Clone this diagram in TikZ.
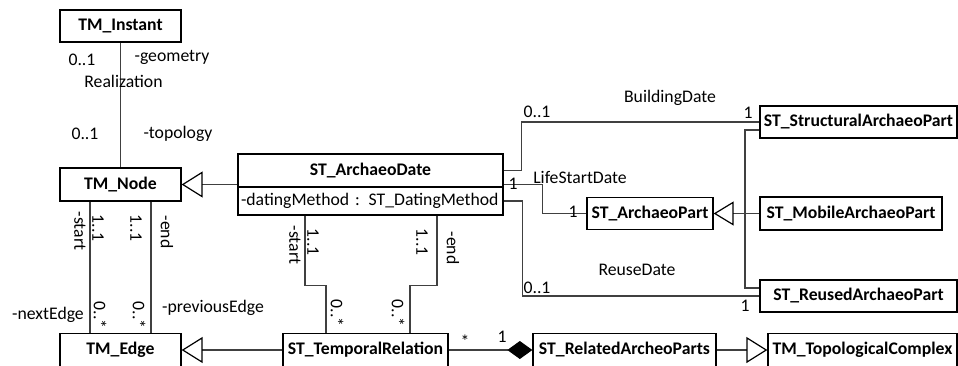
\documentclass[tikz,border=0pt]{standalone}
\usepackage{fontspec}
\setmainfont{Carlito}
\usetikzlibrary{arrows.meta}
\begin{document}
\begin{tikzpicture}[x=1pt,y=-1pt,
  cls/.style={draw=black,line width=1.3pt,fill=white,font=\fontsize{17.7}{20}\selectfont\bfseries,inner sep=0pt,minimum height=33pt},
  conn/.style={draw=black!75,line width=1.1pt},
  lbl/.style={font=\fontsize{17.7}{20}\selectfont,inner sep=0pt},
  vlbl/.style={lbl,rotate=-90},
  gen/.style={-{Triangle[open,length=21pt,width=26pt,line width=1.2pt,color=black]}},
  comp/.style={-{Diamond[length=25pt,width=18pt,color=black,fill=black]}}]
\useasboundingbox (0,0) rectangle (958,365);
% classes
\node[cls,minimum width=121pt,minimum height=32pt] (inst) at (120.5,26) {TM\_Instant};
\node[cls,minimum width=121pt] (node) at (120.5,184.5) {TM\_Node};
\node[cls,minimum width=121pt] (edge) at (120.5,350) {TM\_Edge};
\node[cls,minimum width=265pt] (dateT) at (370.5,170.5) {ST\_ArchaeoDate};
\node[cls,minimum width=265pt,minimum height=28pt,text width=259pt,align=left,font=\fontsize{17.7}{20}\selectfont] (dateA) at (370.5,201) {-datingMethod : ST\_DatingMethod};
\node[cls,minimum width=165pt] (tr) at (365.5,350) {ST\_TemporalRelation};
\node[cls,minimum width=183pt] (rap) at (624.5,350) {ST\_RelatedArcheoParts};
\node[cls,minimum width=189pt] (tc) at (862.5,350) {TM\_TopologicalComplex};
\node[cls,minimum width=197pt,minimum height=32pt] (sap) at (858.5,122) {ST\_StructuralArchaeoPart};
\node[cls,minimum width=182pt] (map) at (851,213.5) {ST\_MobileArchaeoPart};
\node[cls,minimum width=197pt,minimum height=32pt] (rep) at (858.5,296) {ST\_ReusedArchaeoPart};
\node[cls,minimum width=126pt,minimum height=32pt] (ap) at (650,213.5) {ST\_ArchaeoPart};
% connectors
\draw[conn] (inst.south) -- (node.north);
\draw[conn,gen] (dateT.west |- node.east) -- (node.east);
\draw[conn] ([xshift=-30.5pt]node.south) -- ([xshift=-30.5pt]edge.north);
\draw[conn] ([xshift=30.5pt]node.south) -- ([xshift=30.5pt]edge.north);
\draw[conn,gen] (tr.west) -- (edge.east);
\draw[conn] ([xshift=-65.5pt]dateA.south) -- ++(0,70) -| ([xshift=-39.5pt]tr.north);
\draw[conn] ([xshift=66.5pt]dateA.south) -- ++(0,70) -| ([xshift=44.5pt]tr.north);
\draw[conn,comp] (tr.east) -- (rap.west);
\draw[conn,gen] (rap.east) -- (tc.west);
\draw[conn] (dateT.east) -- ++(18,0) |- (sap.west);
\draw[conn] (dateT.east |- node.east) -- ++(39,0) |- (ap.west);
\draw[conn] (dateA.east) -- ++(19,0) |- (rep.west);
\draw[conn,-{Triangle[open,length=20pt,width=24pt,line width=1.2pt,color=black]}] (map.west) -- (ap.east);
\coordinate (j) at (745,213.5);
\draw[conn] ([yshift=-8pt]sap.west) -| (j) |- ([yshift=8pt]rep.west);
% labels
\node[lbl] (l1) at (82,60) {0..1};
\node[lbl] (l2) at (172,57) {-geometry};
\node[lbl] (l3) at (123.5,81) {Realization};
\node[lbl] (l4) at (85,134) {0..1};
\node[lbl] (l5) at (178,134) {-topology};
\node[vlbl] (l6) at (80,231) {-start};
\node[vlbl] (l7) at (98,228) {1..1};
\node[vlbl] (l8) at (136,228) {1..1};
\node[vlbl] (l9) at (167,232) {-end};
\node[vlbl] (l10) at (100,315) {0..*};
\node[vlbl] (l11) at (139,315) {0..*};
\node[lbl] (l12) at (48,315) {-nextEdge};
\node[lbl] (l13) at (213,308) {-previousEdge};
\node[vlbl] (l14) at (295,245) {-start};
\node[vlbl] (l15) at (313,242) {1..1};
\node[vlbl] (l16) at (422,242) {1..1};
\node[vlbl] (l17) at (453,248) {-end};
\node[vlbl] (l18) at (337,313) {0..*};
\node[vlbl] (l19) at (398,313) {0..*};
\node[lbl] (l20) at (465,341) {*};
\node[lbl] (l21) at (502,337) {1};
\node[lbl] (l22) at (537,112) {0..1};
\node[lbl] (l23) at (670,98) {BuildingDate};
\node[lbl] (l24) at (748,113) {1};
\node[lbl] (l25) at (513,184) {1};
\node[lbl] (l26) at (580,177) {LifeStartDate};
\node[lbl] (l27) at (573,212) {1};
\node[lbl] (l28) at (637,270) {ReuseDate};
\node[lbl] (l29) at (537,288) {0..1};
\node[lbl] (l30) at (745,306) {1};
\end{tikzpicture}
\end{document}
